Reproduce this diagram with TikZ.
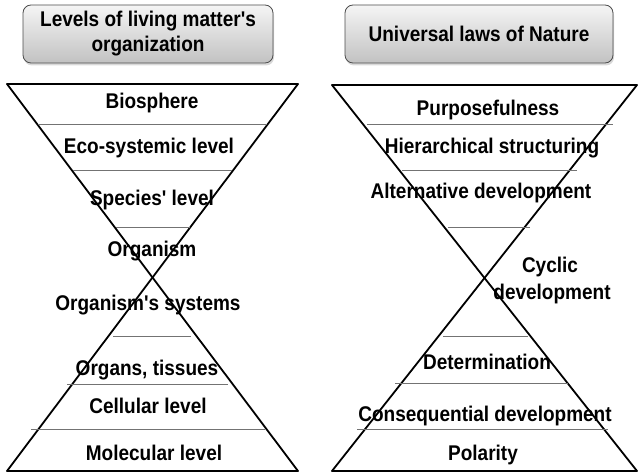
\documentclass[tikz,border=0pt]{standalone}
\usepackage{fontspec}
\setmainfont{Liberation Sans}
\usetikzlibrary{shadows}
% slightly taller lettering
\newcommand\tall[1]{\scalebox{1}[1.12]{#1}}
\begin{document}
\begin{tikzpicture}[x=1pt,y=-1pt,
  lbl/.style={font=\bfseries\fontsize{19}{25}\selectfont, inner sep=0pt,
    text height=15pt, text depth=0pt},
  rim/.style={line width=1.8pt, line cap=round, line join=round},
  sep/.style={line width=0.9pt, draw=black!55},
  titlebox/.style={draw=black!70, line width=0.8pt, rounded corners=8pt,
    top color=black!4, bottom color=black!24,
    drop shadow={shadow xshift=1pt, shadow yshift=-2.5pt, opacity=0.3},
    minimum height=58pt, inner sep=0pt, align=center,
    font=\bfseries\fontsize{19}{25}\selectfont}
]
\useasboundingbox (0,0) rectangle (638,473);

% title boxes
\node[titlebox, minimum width=250pt] (tl) at (148,34)
  {\tall{Levels of living matter\textquotesingle s}\\\tall{organization}};
\node[titlebox, minimum width=268pt] (tr) at (479,34) {\tall{Universal laws of Nature}};

% left hourglass
\coordinate (Ltl) at (7,84);
\coordinate (Ltr) at (298,84);
\coordinate (Lbl) at (7,471);
\coordinate (Lbr) at (298,471);
\draw[rim] (Ltl) -- (Ltr);
\draw[rim] (Lbl) -- (Lbr);
\draw[rim] (Ltl) -- (Lbr);
\draw[rim] (Ltr) -- (Lbl);

\draw[sep] (38,124) -- (267,124);
\draw[sep] (73,170) -- (232,170);
\draw[sep] (116,227) -- (190,227);
\draw[sep] (113,336) -- (191,336);
\draw[sep] (67,384) -- (228,384);
\draw[sep] (31,429) -- (265,429);

\node[lbl] (l1) at (152,101) {\tall{Biosphere}};
\node[lbl] (l2) at (149,146) {\tall{Eco-systemic level}};
\node[lbl] (l3) at (152,198) {\tall{Species\textquotesingle\ level}};
\node[lbl] (l4) at (152,249.5) {\tall{Organism}};
\node[lbl] (l5) at (148,303) {\tall{Organism\textquotesingle s systems}};
\node[lbl] (l6) at (147,368) {\tall{Organs, tissues}};
\node[lbl] (l7) at (148,406) {\tall{Cellular level}};
\node[lbl] (l8) at (154,453) {\tall{Molecular level}};

% right hourglass
\coordinate (Rtl) at (332,85);
\coordinate (Rtr) at (637,85);
\coordinate (Rbl) at (332,471);
\coordinate (Rbr) at (637,471);
\draw[rim] (Rtl) -- (Rtr);
\draw[rim] (Rbl) -- (Rbr);
\draw[rim] (Rtl) -- (Rbr);
\draw[rim] (Rtr) -- (Rbl);

\draw[sep] (367,124) -- (613,124);
\draw[sep] (402,170) -- (577,170);
\draw[sep] (448,227) -- (530,227);
\draw[sep] (443,336) -- (528,336);
\draw[sep] (395,383) -- (568,383);
\draw[sep] (357,429) -- (608,429);

\node[lbl] (r1) at (488,108) {\tall{Purposefulness}};
\node[lbl] (r2) at (492,146) {\tall{Hierarchical structuring}};
\node[lbl] (r3) at (481,191) {\tall{Alternative development}};
\node[lbl] (r4a) at (550,265.5) {\tall{Cyclic}};
\node[lbl] (r4b) at (552,292) {\tall{development}};
\node[lbl] (r5) at (487,362.5) {\tall{Determination}};
\node[lbl] (r6) at (485,414) {\tall{Consequential development}};
\node[lbl] (r7) at (483,453) {\tall{Polarity}};
\end{tikzpicture}
\end{document}
